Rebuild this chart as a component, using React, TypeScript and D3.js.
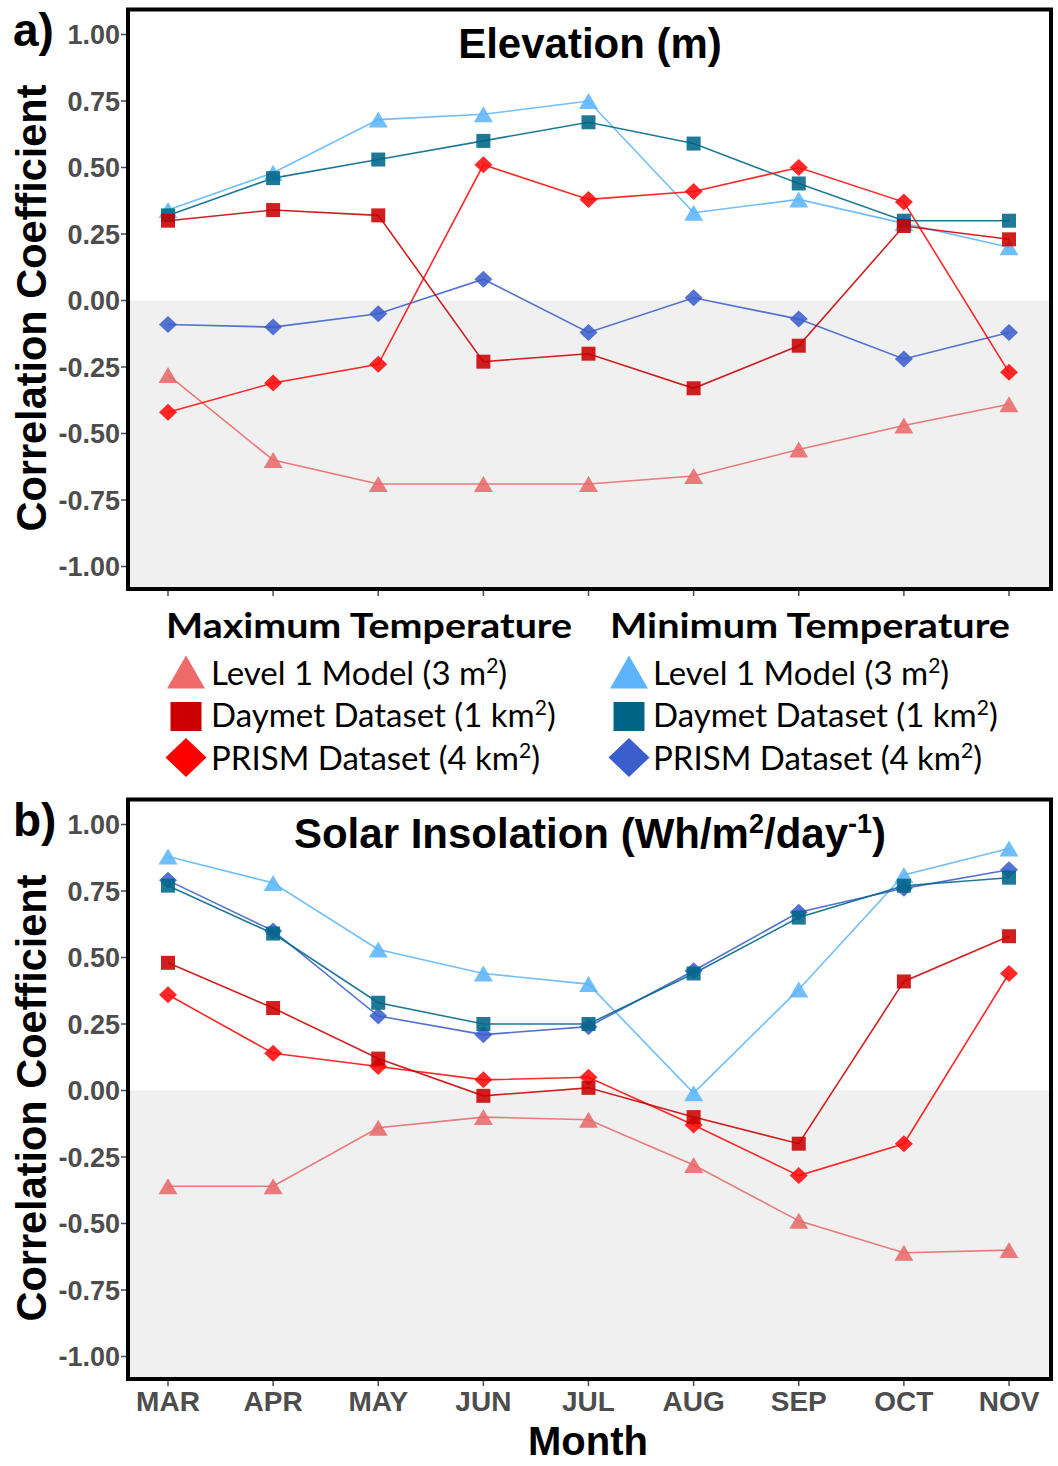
import React from "react";
import * as d3 from "d3";

// Months on the x axis and tick labels on the y axis
const MONTHS = ["MAR", "APR", "MAY", "JUN", "JUL", "AUG", "SEP", "OCT", "NOV"];
const Y_TICK_VALUES = [1, 0.75, 0.5, 0.25, 0, -0.25, -0.5, -0.75, -1];
const Y_TICK_LABELS = ["1.00", "0.75", "0.50", "0.25", "0.00", "-0.25", "-0.50", "-0.75", "-1.00"];

// a) Elevation (m): correlation coefficients by month
const elevMaxLevel1 = [-0.28, -0.6, -0.69, -0.69, -0.69, -0.66, -0.56, -0.47, -0.39];
const elevMaxDaymet = [0.3, 0.34, 0.32, -0.23, -0.2, -0.33, -0.17, 0.28, 0.23];
const elevMaxPrism = [-0.42, -0.31, -0.24, 0.51, 0.38, 0.41, 0.5, 0.37, -0.27];
const elevMinLevel1 = [0.34, 0.48, 0.68, 0.7, 0.75, 0.33, 0.38, 0.29, 0.2];
const elevMinDaymet = [0.32, 0.46, 0.53, 0.6, 0.67, 0.59, 0.44, 0.3, 0.3];
const elevMinPrism = [-0.09, -0.1, -0.05, 0.08, -0.12, 0.01, -0.07, -0.22, -0.12];

// b) Solar insolation: correlation coefficients by month
const solarMaxLevel1 = [-0.36, -0.36, -0.14, -0.1, -0.11, -0.28, -0.49, -0.61, -0.6];
const solarMaxDaymet = [0.48, 0.31, 0.12, -0.02, 0.01, -0.1, -0.2, 0.41, 0.58];
const solarMaxPrism = [0.36, 0.14, 0.09, 0.04, 0.05, -0.13, -0.32, -0.2, 0.44];
const solarMinLevel1 = [0.88, 0.78, 0.53, 0.44, 0.4, -0.01, 0.38, 0.81, 0.91];
const solarMinDaymet = [0.77, 0.59, 0.33, 0.25, 0.25, 0.44, 0.65, 0.77, 0.8];
const solarMinPrism = [0.79, 0.6, 0.28, 0.21, 0.24, 0.45, 0.67, 0.76, 0.83];

type Shape = "triangle" | "square" | "diamond";
interface Series {
  key: string;
  shape: Shape;
  color: string;
  values: number[];
}

const STYLE: Record<string, { shape: Shape; color: string }> = {
  minLevel1: { shape: "triangle", color: "#5cb5fa" },
  minPrism: { shape: "diamond", color: "#3b5fcd" },
  minDaymet: { shape: "square", color: "#006688" },
  maxLevel1: { shape: "triangle", color: "#e8696a" },
  maxPrism: { shape: "diamond", color: "#ff0a0a" },
  maxDaymet: { shape: "square", color: "#c80000" },
};

const makeSeries = (v: Record<string, number[]>): Series[] =>
  ["minLevel1", "minPrism", "minDaymet", "maxLevel1", "maxPrism", "maxDaymet"].map((k) => ({
    key: k,
    shape: STYLE[k].shape,
    color: STYLE[k].color,
    values: v[k],
  }));

const PANELS = [
  {
    letter: "a)",
    offset: 0,
    showMonths: false,
    series: makeSeries({
      minLevel1: elevMinLevel1,
      minPrism: elevMinPrism,
      minDaymet: elevMinDaymet,
      maxLevel1: elevMaxLevel1,
      maxPrism: elevMaxPrism,
      maxDaymet: elevMaxDaymet,
    }),
  },
  {
    letter: "b)",
    offset: 790,
    showMonths: true,
    series: makeSeries({
      minLevel1: solarMinLevel1,
      minPrism: solarMinPrism,
      minDaymet: solarMinDaymet,
      maxLevel1: solarMaxLevel1,
      maxPrism: solarMaxPrism,
      maxDaymet: solarMaxDaymet,
    }),
  },
];

const W = 1058;
const H = 1466;
const FRAME = { left: 128, right: 1051, top: 9.5, bottom: 589 };
const ARIAL = "'Liberation Sans', Arial, sans-serif";
const LEGEND_FONT = "Lato, 'Open Sans', sans-serif";

const x = d3.scaleLinear().domain([0, MONTHS.length - 1]).range([168, 1009]);
const y = d3.scaleLinear().domain([-1, 1]).range([566.5, 34.5]);

function markerPath(shape: Shape, cx: number, cy: number, w: number, h: number): string {
  const p = d3.path();
  if (shape === "triangle") {
    p.moveTo(cx, cy - h / 2);
    p.lineTo(cx + w / 2, cy + h / 2);
    p.lineTo(cx - w / 2, cy + h / 2);
  } else if (shape === "square") {
    p.rect(cx - w / 2, cy - h / 2, w, h);
  } else {
    p.moveTo(cx, cy - h / 2);
    p.lineTo(cx + w / 2, cy);
    p.lineTo(cx, cy + h / 2);
    p.lineTo(cx - w / 2, cy);
  }
  p.closePath();
  return p.toString();
}

const PLOT_SIZE: Record<Shape, [number, number]> = {
  triangle: [19, 16],
  square: [14, 14],
  diamond: [18, 17],
};

function Panel({ panel }: { panel: (typeof PANELS)[number] }) {
  const line = d3
    .line<number>()
    .x((_, i) => x(i))
    .y((d) => y(d));
  return (
    <g transform={`translate(0,${panel.offset})`}>
      {/* negative half shaded */}
      <rect
        x={FRAME.left}
        y={y(0)}
        width={FRAME.right - FRAME.left}
        height={FRAME.bottom - y(0)}
        fill="#f0f0f0"
      />
      {/* y ticks */}
      {Y_TICK_VALUES.map((v, i) => (
        <g key={v}>
          <line x1={121} x2={126} y1={y(v)} y2={y(v)} stroke="#4d4d4d" strokeWidth={1.5} />
          <text
            x={120}
            y={y(v) + 9.5}
            textAnchor="end"
            fontFamily={ARIAL}
            fontWeight="bold"
            fontSize={27}
            fill="#4d4d4d"
          >
            {Y_TICK_LABELS[i]}
          </text>
        </g>
      ))}
      {/* x ticks */}
      {MONTHS.map((m, i) => (
        <g key={m}>
          <line
            x1={x(i)}
            x2={x(i)}
            y1={FRAME.bottom + 2}
            y2={FRAME.bottom + 7}
            stroke="#4d4d4d"
            strokeWidth={1.5}
          />
          {panel.showMonths && (
            <text
              x={x(i)}
              y={FRAME.bottom + 32}
              textAnchor="middle"
              fontFamily={ARIAL}
              fontWeight="bold"
              fontSize={28}
              fill="#4d4d4d"
            >
              {m}
            </text>
          )}
        </g>
      ))}
      {/* lines */}
      {panel.series.map((s) => (
        <path
          key={s.key + "-line"}
          d={line(s.values) || ""}
          fill="none"
          stroke={s.color}
          strokeWidth={1.6}
          strokeOpacity={0.88}
        />
      ))}
      {/* points */}
      {panel.series.map((s) => (
        <g key={s.key + "-pts"}>
          {s.values.map((v, i) => (
            <path
              key={i}
              d={markerPath(s.shape, x(i), y(v), PLOT_SIZE[s.shape][0], PLOT_SIZE[s.shape][1])}
              fill={s.color}
              fillOpacity={0.88}
            />
          ))}
        </g>
      ))}
      {/* frame */}
      <rect
        x={FRAME.left}
        y={FRAME.top}
        width={FRAME.right - FRAME.left}
        height={FRAME.bottom - FRAME.top}
        fill="none"
        stroke="#000"
        strokeWidth={4}
      />
      {/* panel letter */}
      <text x={13} y={45.6} fontFamily={ARIAL} fontWeight="bold" fontSize={46} fill="#000">
        {panel.letter}
      </text>
      {/* y axis title */}
      <text
        transform={`translate(46,308) rotate(-90)`}
        textAnchor="middle"
        fontFamily={ARIAL}
        fontWeight="bold"
        fontSize={42}
        fill="#000"
        textLength={447}
        lengthAdjust="spacingAndGlyphs"
      >
        Correlation Coefficient
      </text>
    </g>
  );
}

const LEGEND_GROUPS = [
  {
    title: "Maximum Temperature",
    titleX: 166,
    titleW: 406,
    symX: 186,
    textX: 211,
    keys: ["maxLevel1", "maxDaymet", "maxPrism"],
  },
  {
    title: "Minimum Temperature",
    titleX: 610,
    titleW: 400,
    symX: 629,
    textX: 653,
    keys: ["minLevel1", "minDaymet", "minPrism"],
  },
];
const LEGEND_LABELS = [
  ["Level 1 Model (3 m", ")"],
  ["Daymet Dataset (1 km", ")"],
  ["PRISM Dataset (4 km", ")"],
];
const LEGEND_ROW_Y = [672, 716.5, 757.5];
const LEGEND_BASELINES = [685, 727, 770];
const LEGEND_SIZE: Record<Shape, [number, number]> = {
  triangle: [38, 33],
  square: [31, 29],
  diamond: [41, 39],
};
const LEGEND_COLORS: Record<string, string> = {
  maxLevel1: "#ef6a6a",
  maxDaymet: "#cc0000",
  maxPrism: "#ff0000",
  minLevel1: "#5cb5fa",
  minDaymet: "#006688",
  minPrism: "#3a5fcd",
};

function Legend() {
  return (
    <g>
      {LEGEND_GROUPS.map((g) => (
        <g key={g.title}>
          <text
            x={g.titleX}
            y={638}
            fontFamily={LEGEND_FONT}
            fontWeight="bold"
            fontSize={35}
            fill="#000"
            textLength={g.titleW}
            lengthAdjust="spacingAndGlyphs"
          >
            {g.title}
          </text>
          {g.keys.map((k, r) => {
            const shape = STYLE[k].shape;
            const [w, h] = LEGEND_SIZE[shape];
            return (
              <g key={k}>
                <path
                  d={markerPath(shape, g.symX, LEGEND_ROW_Y[r], w, h)}
                  fill={LEGEND_COLORS[k]}
                />
                <text
                  x={g.textX}
                  y={LEGEND_BASELINES[r]}
                  fontFamily={LEGEND_FONT}
                  fontSize={33}
                  fill="#000"
                >
                  <tspan>{LEGEND_LABELS[r][0]}</tspan>
                  <tspan dy={-12} fontSize={21}>
                    2
                  </tspan>
                  <tspan dy={12}>{LEGEND_LABELS[r][1]}</tspan>
                </text>
              </g>
            );
          })}
        </g>
      ))}
    </g>
  );
}

export default function App() {
  return (
    <div style={{ position: "absolute", left: 0, top: 0 }}>
      <svg width={W} height={H} viewBox={`0 0 ${W} ${H}`} style={{ display: "block", background: "#fff" }}>
        {PANELS.map((p) => (
          <Panel key={p.letter} panel={p} />
        ))}
        <text
          x={590}
          y={57.5}
          textAnchor="middle"
          fontFamily={ARIAL}
          fontWeight="bold"
          fontSize={42}
          fill="#000"
        >
          Elevation (m)
        </text>
        <text
          x={590}
          y={847.5}
          textAnchor="middle"
          fontFamily={ARIAL}
          fontWeight="bold"
          fontSize={42}
          fill="#000"
        >
          <tspan>Solar Insolation (Wh/m</tspan>
          <tspan dy={-15} fontSize={27}>
            2
          </tspan>
          <tspan dy={15}>/day</tspan>
          <tspan dy={-15} fontSize={27}>
            -1
          </tspan>
          <tspan dy={15}>)</tspan>
        </text>
        <Legend />
        <text
          x={588}
          y={1455}
          textAnchor="middle"
          fontFamily={ARIAL}
          fontWeight="bold"
          fontSize={40}
          fill="#000"
        >
          Month
        </text>
      </svg>
    </div>
  );
}
